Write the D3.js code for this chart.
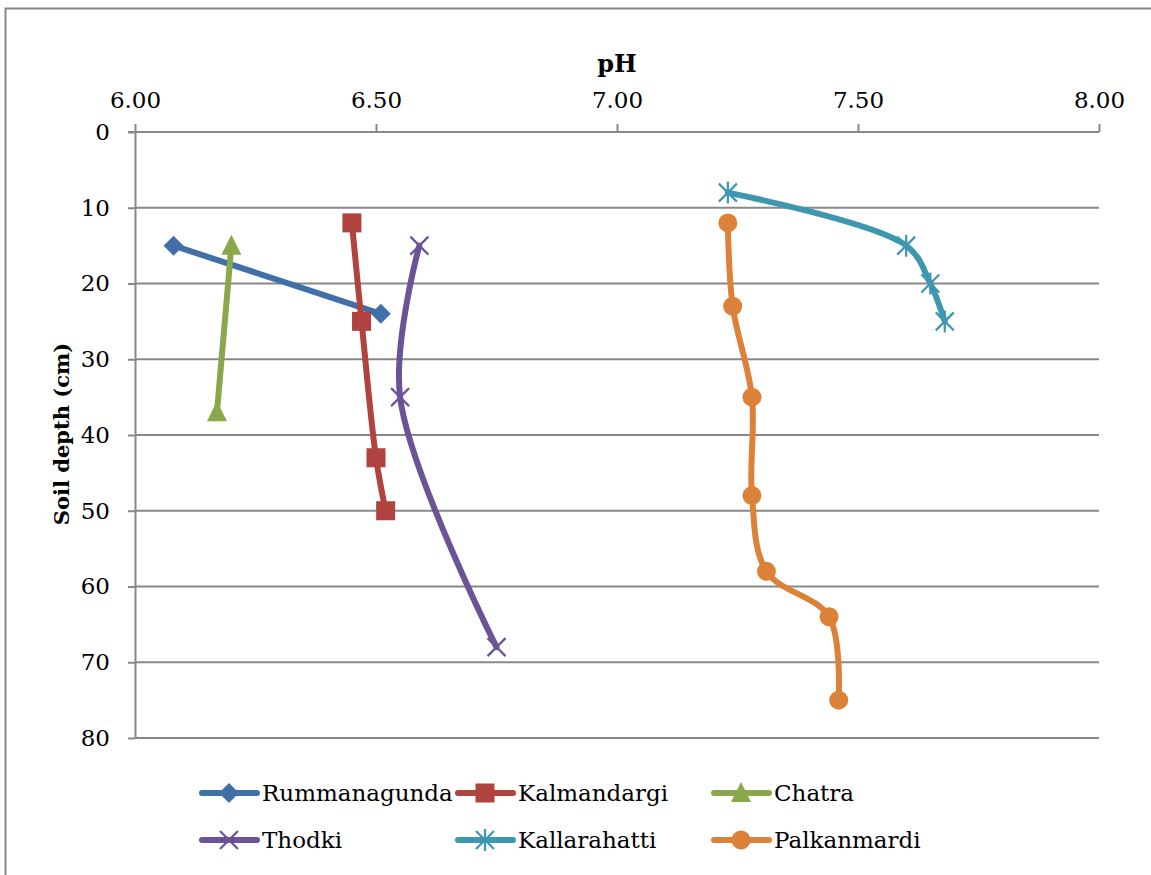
<!DOCTYPE html>
<html>
<head>
<meta charset="utf-8">
<script src="https://cdn.jsdelivr.net/npm/d3@7"></script>
<style>
body { margin: 0; background: #fff; }
</style>
</head>
<body>
<script>
var w = 1151;
var h = 875;

// pH ticks (top axis) and depth ticks (left axis)
var phTicks = [6.00, 6.50, 7.00, 7.50, 8.00];
var depthTicks = [0, 10, 20, 30, 40, 50, 60, 70, 80];

// series: pH value and soil depth (cm)
var rummanagundaPh = [6.08, 6.51];
var rummanagundaDepth = [15, 24];
var kalmandargiPh = [6.45, 6.47, 6.50, 6.52];
var kalmandargiDepth = [12, 25, 43, 50];
var chatraPh = [6.20, 6.17];
var chatraDepth = [15, 37];
var thodkiPh = [6.59, 6.55, 6.75];
var thodkiDepth = [15, 35, 68];
var kallarahattiPh = [7.23, 7.60, 7.65, 7.68];
var kallarahattiDepth = [8, 15, 20, 25];
var palkanmardiPh = [7.23, 7.24, 7.28, 7.28, 7.31, 7.44, 7.46];
var palkanmardiDepth = [12, 23, 35, 48, 58, 64, 75];

var series = [
    {name: "Rummanagunda", ph: rummanagundaPh, depth: rummanagundaDepth, color: "#4170A8", marker: "diamond"},
    {name: "Kalmandargi", ph: kalmandargiPh, depth: kalmandargiDepth, color: "#B0433F", marker: "square"},
    {name: "Chatra", ph: chatraPh, depth: chatraDepth, color: "#8AA84B", marker: "triangle"},
    {name: "Thodki", ph: thodkiPh, depth: thodkiDepth, color: "#6B5396", marker: "x"},
    {name: "Kallarahatti", ph: kallarahattiPh, depth: kallarahattiDepth, color: "#3D97AF", marker: "star"},
    {name: "Palkanmardi", ph: palkanmardiPh, depth: palkanmardiDepth, color: "#DC8138", marker: "circle"}
];

var plotLeft = 135, plotRight = 1099, plotTop = 132, plotBottom = 738;
var serif = "DejaVu Serif";
var fontSize = "23px";

var xScale = d3.scaleLinear().domain([6, 8]).range([plotLeft, plotRight]);
var yScale = d3.scaleLinear().domain([0, 80]).range([plotTop, plotBottom]);

var svg = d3.select("body").append("svg")
    .attr("width", w)
    .attr("height", h)
    .attr("font-family", serif);

// outer chart border (runs off the right/bottom of the picture)
svg.append("rect")
    .attr("x", 5.5).attr("y", 8.5)
    .attr("width", 1200).attr("height", 900)
    .attr("fill", "#fff")
    .attr("stroke", "#868686")
    .attr("stroke-width", 2);

// horizontal gridlines
svg.append("g")
    .selectAll("line")
    .data(depthTicks.filter(function(d) { return d > 0; }))
    .enter()
    .append("line")
    .attr("x1", plotLeft).attr("x2", plotRight)
    .attr("y1", function(d) { return yScale(d); })
    .attr("y2", function(d) { return yScale(d); })
    .attr("stroke", "#888")
    .attr("stroke-width", 2);

// top axis (pH)
var xAxis = d3.axisTop(xScale)
    .tickValues(phTicks)
    .tickFormat(d3.format(".2f"))
    .tickSize(8)
    .tickSizeOuter(0)
    .tickPadding(16);
var gx = svg.append("g")
    .attr("transform", "translate(0," + plotTop + ")")
    .call(xAxis)
    .attr("font-family", serif)
    .attr("font-size", fontSize);
gx.select(".domain").attr("stroke", "#888").attr("stroke-width", 2)
    .attr("d", "M" + (plotLeft - 7) + ",0H" + plotRight);
gx.selectAll(".tick line").attr("stroke", "#888").attr("stroke-width", 2);
gx.selectAll(".tick text").attr("fill", "#000");

// left axis (depth)
var yAxis = d3.axisLeft(yScale)
    .tickValues(depthTicks)
    .tickSize(7)
    .tickSizeOuter(0)
    .tickPadding(18);
var gy = svg.append("g")
    .attr("transform", "translate(" + plotLeft + ",0)")
    .call(yAxis)
    .attr("font-family", serif)
    .attr("font-size", fontSize);
gy.select(".domain").attr("stroke", "#888").attr("stroke-width", 2);
gy.selectAll(".tick line").attr("stroke", "#888").attr("stroke-width", 2);
gy.selectAll(".tick text").attr("fill", "#000");

// axis titles
svg.append("text")
    .attr("x", 617).attr("y", 72)
    .attr("text-anchor", "middle")
    .attr("font-size", "24px")
    .attr("font-weight", "bold")
    .text("pH");
svg.append("text")
    .attr("transform", "translate(69,434) rotate(-90)")
    .attr("text-anchor", "middle")
    .attr("font-size", "21px")
    .attr("font-weight", "bold")
    .text("Soil depth (cm)");

// marker drawing
function drawMarker(g, type, color) {
    if (type === "diamond") {
        g.append("path").attr("d", "M0,-10L10,0L0,10L-10,0Z").attr("fill", color);
    } else if (type === "square") {
        g.append("rect").attr("x", -9.5).attr("y", -9.5).attr("width", 19).attr("height", 19).attr("fill", color);
    } else if (type === "triangle") {
        g.append("path").attr("d", "M0,-11L10,9L-10,9Z").attr("fill", color);
    } else if (type === "circle") {
        g.append("circle").attr("r", 9.5).attr("fill", color);
    } else if (type === "x") {
        g.append("path").attr("d", "M-9,-9L9,9M-9,9L9,-9")
            .attr("stroke", color).attr("stroke-width", 2.2).attr("fill", "none");
    } else if (type === "star") {
        g.append("path").attr("d", "M-9,-9L9,9M-9,9L9,-9M0,-11L0,11")
            .attr("stroke", color).attr("stroke-width", 2.2).attr("fill", "none");
    }
}

var line = d3.line()
    .x(function(d) { return xScale(d[0]); })
    .y(function(d) { return yScale(d[1]); })
    .curve(d3.curveCatmullRom.alpha(0.5));

series.forEach(function(s) {
    var pts = s.ph.map(function(p, i) { return [p, s.depth[i]]; });
    svg.append("path")
        .datum(pts)
        .attr("d", line)
        .attr("fill", "none")
        .attr("stroke", s.color)
        .attr("stroke-width", 6)
        .attr("stroke-linecap", "round")
        .attr("stroke-linejoin", "round");
    svg.append("g")
        .selectAll("g")
        .data(pts)
        .enter()
        .append("g")
        .attr("transform", function(d) { return "translate(" + xScale(d[0]) + "," + yScale(d[1]) + ")"; })
        .each(function() { drawMarker(d3.select(this), s.marker, s.color); });
});

// legend
var legendCols = [202, 458, 714];
var legendRows = [793, 840];
var legend = svg.append("g");
series.forEach(function(s, i) {
    var lx = legendCols[i % 3];
    var ly = legendRows[Math.floor(i / 3)];
    var g = legend.append("g").attr("transform", "translate(" + lx + "," + ly + ")");
    g.append("line")
        .attr("x1", 0).attr("x2", 55)
        .attr("stroke", s.color).attr("stroke-width", 6)
        .attr("stroke-linecap", "round");
    drawMarker(g.append("g").attr("transform", "translate(27,0)"), s.marker, s.color);
    g.append("text")
        .attr("x", 60).attr("y", 8)
        .attr("font-size", fontSize)
        .text(s.name);
});
</script>
</body>
</html>
